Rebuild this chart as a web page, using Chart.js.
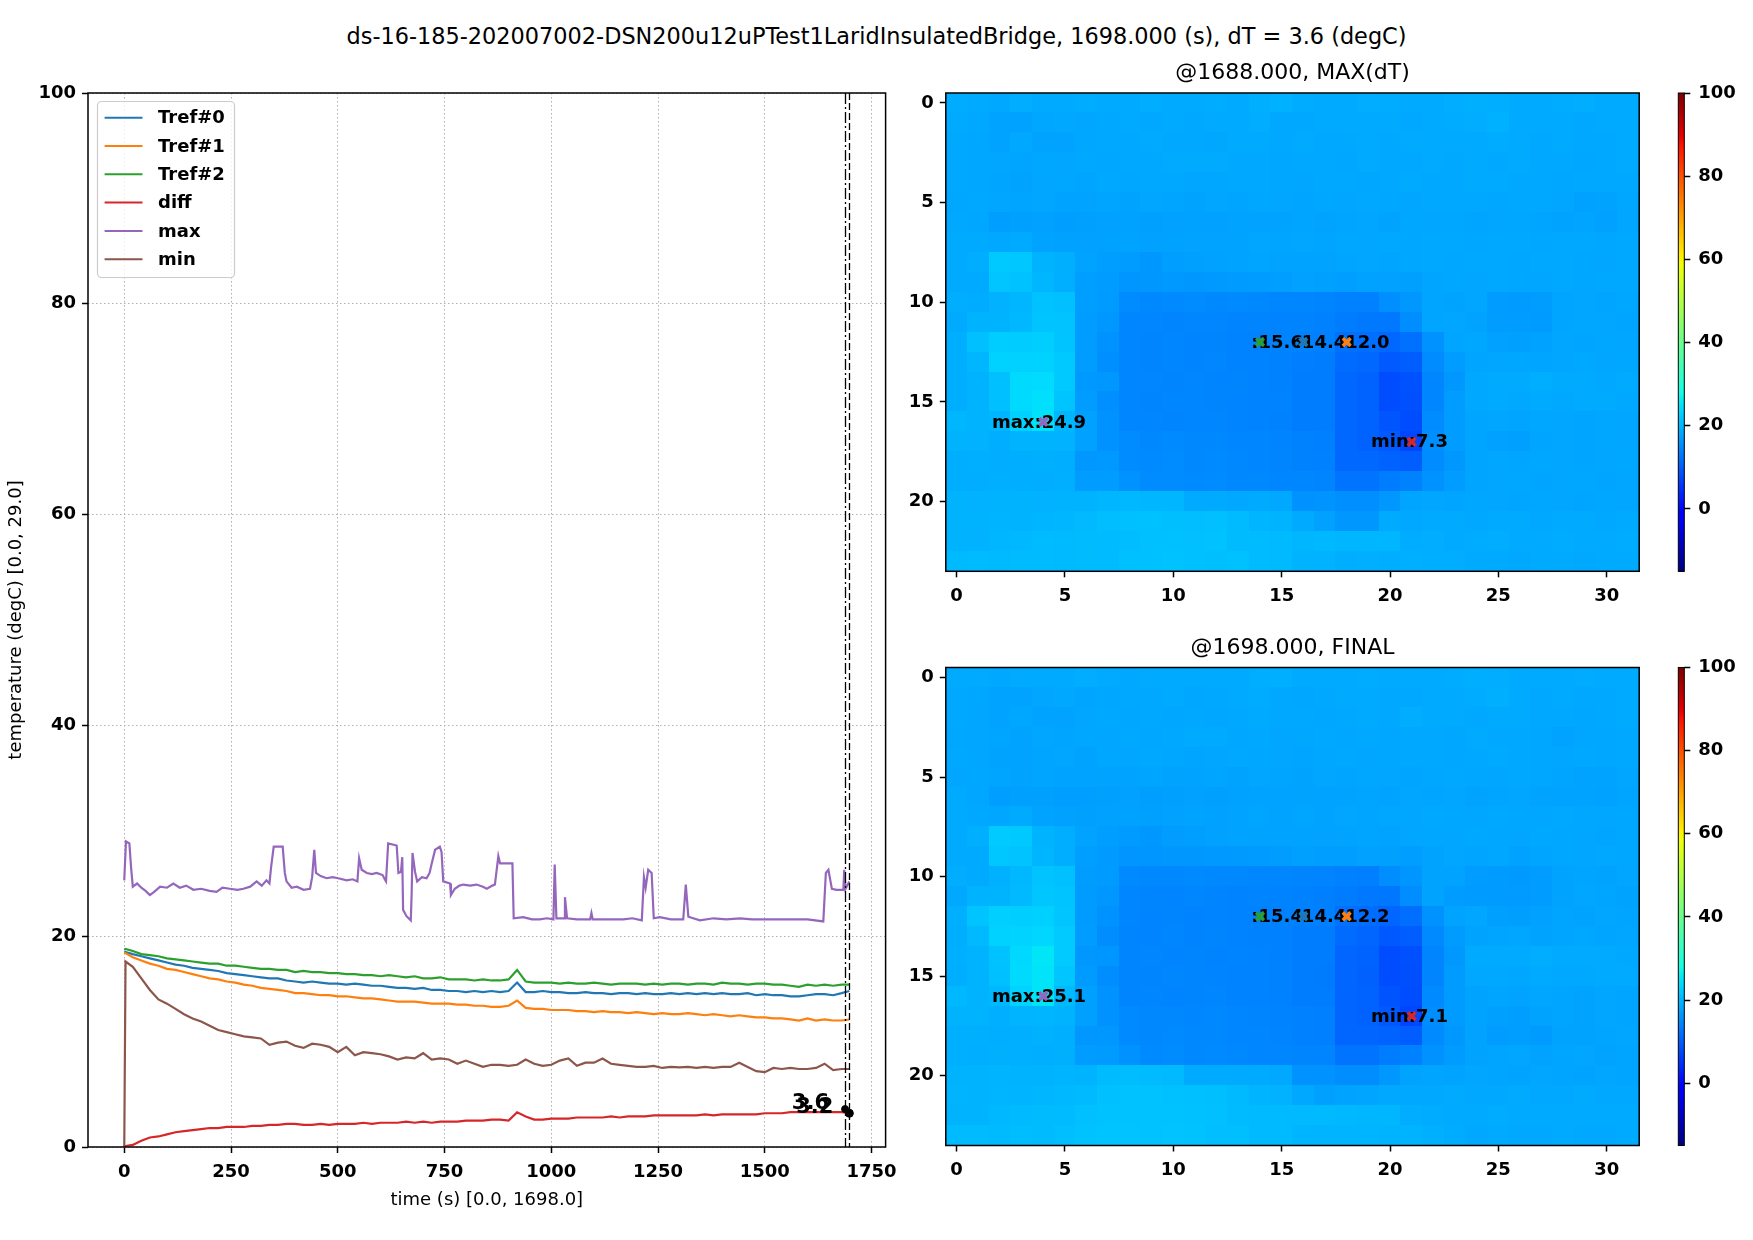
<!DOCTYPE html>
<html>
<head>
<meta charset="utf-8">
<script src="https://cdn.jsdelivr.net/npm/chart.js@4.4.0/dist/chart.umd.min.js"></script>
<style>
  html, body { margin: 0; padding: 0; background: #fff; }
  #page { position: relative; width: 1753px; height: 1240px; overflow: hidden; background: #fff; }
  #page canvas { position: absolute; left: 0; top: 0; width: 1753px; height: 1240px; }
  #suptitle { position: absolute; left: 0; top: 23px; width: 1753px; text-align: center;
              font: 22.4px 'DejaVu Sans', sans-serif; line-height: 26px; color: #000; }
</style>
</head>
<body>
<div id="page">
  <div id="suptitle">ds-16-185-202007002-DSN200u12uPTest1LaridInsulatedBridge, 1698.000 (s), dT = 3.6 (degC)</div>
  <canvas id="cLines" width="1753" height="1240"></canvas>
  <canvas id="cMapTop" width="1753" height="1240"></canvas>
  <canvas id="cBarTop" width="1753" height="1240"></canvas>
  <canvas id="cMapBot" width="1753" height="1240"></canvas>
  <canvas id="cBarBot" width="1753" height="1240"></canvas>
</div>
<script>
// ---- line chart data ----
const seriesNames = ['Tref#0', 'Tref#1', 'Tref#2', 'diff', 'max', 'min'];
const seriesColors = ['#1f77b4', '#ff7f0e', '#2ca02c', '#d62728', '#9467bd', '#8c564b'];

const times = [
  0, 3, 20, 40, 60, 80, 100, 120, 140, 160,
  180, 200, 220, 240, 260, 280, 300, 320, 340, 360,
  380, 400, 420, 440, 460, 480, 500, 520, 540, 560,
  580, 600, 620, 640, 660, 680, 700, 720, 740, 760,
  780, 800, 820, 840, 860, 880, 900, 920, 940, 960,
  980, 1000, 1020, 1040, 1060, 1080, 1100, 1120, 1140, 1160,
  1180, 1200, 1220, 1240, 1260, 1280, 1300, 1320, 1340, 1360,
  1380, 1400, 1420, 1440, 1460, 1480, 1500, 1520, 1540, 1560,
  1580, 1600, 1620, 1640, 1660, 1680, 1698
];
const tref0Vals = [
  18.5, 18.5, 18.3, 18.1, 17.9, 17.7, 17.5, 17.3, 17.2, 17.0,
  16.9, 16.8, 16.7, 16.5, 16.4, 16.3, 16.2, 16.1, 16.0, 16.0,
  15.8, 15.7, 15.6, 15.7, 15.6, 15.5, 15.5, 15.4, 15.5, 15.4,
  15.3, 15.3, 15.2, 15.1, 15.1, 15.0, 15.1, 14.9, 14.9, 14.8,
  14.8, 14.7, 14.8, 14.7, 14.8, 14.7, 14.8, 15.6, 14.7, 14.7,
  14.8, 14.7, 14.7, 14.6, 14.6, 14.7, 14.6, 14.6, 14.5, 14.6,
  14.6, 14.5, 14.6, 14.5, 14.5, 14.6, 14.5, 14.6, 14.5, 14.6,
  14.5, 14.6, 14.5, 14.5, 14.6, 14.4, 14.5, 14.4, 14.4, 14.3,
  14.3, 14.4, 14.5, 14.5, 14.4, 14.6, 14.8
];
const tref1Vals = [
  18.4, 18.4, 18.0, 17.7, 17.4, 17.2, 16.9, 16.8, 16.6, 16.4,
  16.2, 16.0, 15.9, 15.7, 15.6, 15.4, 15.3, 15.1, 15.0, 14.9,
  14.8, 14.6, 14.6, 14.5, 14.4, 14.4, 14.3, 14.3, 14.2, 14.1,
  14.1, 14.0, 13.9, 13.8, 13.8, 13.8, 13.7, 13.6, 13.6, 13.6,
  13.5, 13.5, 13.4, 13.4, 13.3, 13.3, 13.4, 13.9, 13.2, 13.1,
  13.1, 13.0, 13.0, 13.0, 12.9, 12.9, 12.8, 12.9, 12.8, 12.8,
  12.7, 12.8, 12.7, 12.6, 12.7, 12.6, 12.6, 12.7, 12.6, 12.5,
  12.6, 12.5, 12.4, 12.5, 12.4, 12.3, 12.3, 12.2, 12.2, 12.1,
  12.0, 12.2, 12.0, 12.1, 12.0, 12.0, 12.1
];
const tref2Vals = [
  18.7, 18.8, 18.6, 18.3, 18.2, 18.1, 17.9, 17.8, 17.7, 17.6,
  17.5, 17.4, 17.4, 17.2, 17.2, 17.1, 17.0, 16.9, 16.9, 16.8,
  16.8, 16.6, 16.7, 16.6, 16.6, 16.5, 16.5, 16.4, 16.4, 16.3,
  16.3, 16.2, 16.3, 16.2, 16.1, 16.2, 16.0, 16.0, 16.1, 15.9,
  15.9, 15.9, 15.8, 15.9, 15.8, 15.8, 15.9, 16.8, 15.7, 15.6,
  15.6, 15.6, 15.5, 15.6, 15.5, 15.5, 15.6, 15.5, 15.4, 15.5,
  15.5, 15.5, 15.4, 15.5, 15.4, 15.5, 15.5, 15.4, 15.5, 15.5,
  15.4, 15.6, 15.5, 15.5, 15.4, 15.5, 15.5, 15.4, 15.4, 15.3,
  15.2, 15.4, 15.3, 15.4, 15.3, 15.4, 15.4
];
const diffVals = [
  0.0, 0.1, 0.2, 0.6, 0.9, 1.0, 1.2, 1.4, 1.5, 1.6,
  1.7, 1.8, 1.8, 1.9, 1.9, 1.9, 2.0, 2.0, 2.1, 2.1,
  2.2, 2.2, 2.1, 2.1, 2.2, 2.1, 2.2, 2.2, 2.2, 2.3,
  2.2, 2.3, 2.3, 2.3, 2.4, 2.3, 2.4, 2.3, 2.4, 2.4,
  2.4, 2.5, 2.5, 2.5, 2.6, 2.6, 2.5, 3.3, 2.9, 2.6,
  2.6, 2.7, 2.7, 2.7, 2.8, 2.8, 2.8, 2.8, 2.9, 2.8,
  2.9, 2.9, 2.9, 3.0, 3.0, 3.0, 3.0, 3.0, 3.0, 3.1,
  3.0, 3.1, 3.1, 3.1, 3.1, 3.1, 3.2, 3.2, 3.2, 3.3,
  3.3, 3.3, 3.3, 3.3, 3.3, 3.3, 3.2
];
const minVals = [
  0.0, 17.6, 17.1, 16.0, 14.9, 14.0, 13.6, 13.1, 12.6, 12.2,
  11.9, 11.5, 11.1, 10.9, 10.7, 10.5, 10.4, 10.3, 9.7, 9.9,
  10.0, 9.6, 9.4, 9.8, 9.7, 9.5, 9.0, 9.5, 8.7, 9.0,
  8.9, 8.8, 8.6, 8.3, 8.5, 8.4, 8.9, 8.3, 8.4, 8.3,
  7.9, 8.2, 7.9, 7.6, 7.8, 7.8, 7.7, 7.8, 8.3, 7.9,
  7.7, 7.8, 8.2, 8.4, 7.7, 8.0, 8.0, 8.4, 7.9, 7.8,
  7.7, 7.6, 7.6, 7.7, 7.5, 7.6, 7.55, 7.6, 7.5, 7.6,
  7.5, 7.6, 7.6, 8.0, 7.6, 7.2, 7.1, 7.5, 7.4, 7.5,
  7.4, 7.4, 7.5, 7.9, 7.3, 7.4, 7.4
];
// the max trace has its own, denser sampling around the steps
const maxTimes = [
  0, 4, 12, 16, 20, 30, 40, 50, 60, 70,
  84, 100, 115, 130, 145, 162, 180, 200, 216, 230,
  247, 265, 279, 295, 310, 322, 333, 340, 344, 350,
  371, 376, 380, 392, 404, 420, 435, 440, 445, 449,
  460, 474, 488, 501, 521, 535, 546, 550, 556, 568,
  580, 591, 605, 610, 613, 618, 638, 642, 648, 651,
  653, 661, 671, 673, 675, 681, 686, 697, 708, 715,
  720, 728, 739, 743, 747, 763, 765, 774, 785, 794,
  810, 825, 840, 849, 862, 868, 876, 880, 909, 912,
  934, 955, 973, 990, 1005, 1008, 1012, 1030, 1032, 1037,
  1060, 1091, 1094, 1097, 1130, 1169, 1190, 1212, 1217, 1221,
  1227, 1235, 1240, 1254, 1280, 1309, 1315, 1321, 1348, 1380,
  1410, 1442, 1470, 1504, 1530, 1559, 1600, 1637, 1643, 1649,
  1657, 1668, 1684, 1686, 1689, 1698
];
const maxValues = [
  25.3, 29.0, 28.8, 26.5, 24.7, 25.0, 24.6, 24.3, 23.9, 24.2,
  24.7, 24.6, 25.0, 24.6, 24.8, 24.4, 24.5, 24.3, 24.2, 24.6,
  24.5, 24.4, 24.5, 24.7, 25.2, 24.8, 25.3, 25.0, 26.6, 28.5,
  28.5, 26.0, 25.2, 24.6, 24.7, 24.4, 24.5, 25.6, 28.2, 26.0,
  25.7, 25.5, 25.6, 25.5, 25.3, 25.4, 25.2, 27.4, 26.3, 26.0,
  25.9, 26.0, 25.8, 25.4, 25.2, 28.8, 28.6, 26.0, 26.1, 27.5,
  22.5, 21.9, 21.5, 24.0, 27.9, 26.1, 25.2, 25.6, 25.5, 26.0,
  26.9, 28.2, 28.5, 28.0, 25.2, 25.0, 23.9, 24.5, 24.8, 24.9,
  24.8, 24.9, 24.7, 24.5, 24.8, 24.9, 27.6, 26.9, 26.9, 21.7,
  21.8, 21.6, 21.6, 21.7, 21.6, 26.8, 21.7, 21.7, 23.7, 21.7,
  21.6, 21.6, 22.2, 21.6, 21.6, 21.6, 21.7, 21.5, 25.6, 24.6,
  26.3, 26.0, 21.7, 21.8, 21.6, 21.6, 24.9, 21.85, 21.5, 21.7,
  21.6, 21.7, 21.6, 21.6, 21.6, 21.6, 21.6, 21.4, 26.0, 26.3,
  24.5, 24.4, 24.4, 26.3, 24.5, 25.2
];
const eventTimes = [1688, 1698];
const eventDiff = [3.6, 3.2];
const eventLabels = ['3.6', '3.2'];

const lineXTicks = [0, 250, 500, 750, 1000, 1250, 1500, 1750];
const lineYTicks = [0, 20, 40, 60, 80, 100];

// ---- heat maps (24 rows x 32 columns, degC) ----
const mapXTicks = [0, 5, 10, 15, 20, 25, 30];
const mapYTicks = [0, 5, 10, 15, 20];
const barTicks = [0, 20, 40, 60, 80, 100];
const colorMin = -15;
const colorMax = 100;

const mapMaxDT = [
  [18.8,18.6,18.4,18.9,18.7,18.6,18.8,18.5, 18.6,18.9,18.7,18.6,18.8,18.5,19.2,19.3, 18.8,18.7,18.6,18.9,18.8,18.7,18.6,18.9, 19.2,19.0,18.7,18.6,18.8,18.9,18.7,18.6],
  [18.5,18.3,17.8,17.6,18.2,18.4,18.1,18.3, 18.5,18.4,18.6,18.3,18.5,18.7,18.9,18.4, 18.3,18.5,18.6,18.7,18.5,18.4,18.6,18.8, 18.9,19.3,18.7,18.5,18.6,18.4,18.5,18.7],
  [18.4,18.2,17.7,18.3,17.9,17.8,18.2,18.4, 18.3,18.5,18.3,18.4,18.2,18.5,18.6,18.4, 18.5,18.3,18.4,18.6,18.4,18.5,18.7,18.6, 18.5,18.8,18.6,18.4,18.5,18.3,18.4,18.6],
  [18.3,18.2,18.1,18.0,18.2,18.1,18.3,18.2, 18.4,18.3,18.5,18.6,18.7,18.3,18.4,18.2, 18.3,18.4,18.2,18.5,18.3,18.4,18.5,18.3, 18.6,18.4,18.5,18.3,18.4,18.2,18.3,18.5],
  [18.4,18.2,18.0,17.9,18.1,18.2,18.0,18.3, 18.2,18.4,18.3,18.1,18.2,18.4,18.3,18.2, 18.1,18.3,18.4,18.2,18.3,18.5,18.4,18.3, 18.5,18.6,18.4,18.3,18.2,18.4,18.3,18.4],
  [18.2,18.3,18.1,18.0,18.1,17.8,17.9,18.0, 17.9,18.1,18.0,17.9,18.1,18.0,18.2,18.1, 18.0,18.2,18.1,18.3,18.2,18.1,18.3,18.4, 18.3,18.2,18.4,18.3,18.1,17.6,17.9,18.2],
  [18.4,18.2,17.3,17.4,17.5,17.3,17.4,17.5, 17.6,17.4,17.5,17.6,17.5,17.7,17.8,17.9, 18.0,17.9,18.0,18.1,17.9,18.2,18.1,18.2, 18.0,18.1,18.2,18.0,17.9,18.0,17.5,18.1],
  [18.6,18.5,18.3,18.7,17.8,17.6,17.5,17.6, 17.7,17.5,17.6,17.8,17.7,17.9,18.1,18.0, 18.1,18.0,18.2,18.1,18.3,18.2,18.4,18.3, 18.2,18.4,18.3,18.2,18.4,18.3,18.2,18.3],
  [18.5,19.0,22.0,21.8,19.6,19.2,17.8,17.3, 17.0,16.5,17.2,17.4,17.6,17.8,18.0,17.9, 17.8,17.9,18.0,18.1,18.0,18.2,18.3,18.2, 18.4,18.3,18.2,18.4,18.3,18.2,18.1,18.3],
  [18.6,18.7,21.6,21.2,20.0,19.1,17.3,17.0, 16.3,16.4,16.6,16.5,16.7,16.8,17.0,17.2, 17.5,17.4,17.3,17.6,17.5,17.4,18.0,18.2, 18.1,18.3,18.2,18.1,18.3,18.2,18.4,18.3],
  [19.0,18.8,19.4,20.0,21.2,21.0,17.2,16.9, 15.0,14.8,14.9,15.0,14.8,14.9,14.7,14.6, 14.5,14.4,14.0,13.9,15.5,16.4,18.0,17.9, 18.1,17.0,16.9,17.1,18.0,18.1,18.0,18.2],
  [18.5,19.6,19.5,20.1,21.5,21.4,17.0,16.5, 14.6,14.5,14.4,14.6,14.5,14.3,14.4,14.2, 14.1,13.9,13.5,13.0,12.9,15.4,18.0,18.1, 17.9,17.1,17.0,16.9,18.0,18.2,18.1,18.0],
  [19.0,21.0,22.5,22.4,22.6,21.5,17.0,16.0, 14.6,14.4,14.5,14.3,14.4,14.2,14.0,14.1, 14.0,13.8,12.0,11.8,11.0,12.0,16.0,18.0, 18.2,17.5,17.4,17.6,18.1,18.0,18.2,18.1],
  [19.0,20.0,23.0,22.9,23.1,22.0,17.1,15.5, 14.5,14.4,14.6,14.3,14.5,14.2,14.1,14.0, 13.6,13.4,11.5,11.0,9.5,10.0,15.0,17.0, 18.0,18.1,18.2,18.0,18.1,18.3,18.1,18.2],
  [19.0,19.5,21.0,24.0,24.1,22.0,16.6,16.4, 14.5,14.6,14.4,14.5,14.3,14.4,14.2,14.0, 13.5,13.4,11.0,10.5,8.0,8.5,14.5,16.5, 18.4,18.5,18.6,19.0,18.5,18.6,18.4,18.5],
  [19.0,19.5,21.0,24.0,24.5,21.5,17.0,15.5, 14.5,14.4,14.6,14.5,14.4,14.3,14.2,14.1, 13.5,13.3,11.0,10.4,8.0,8.4,14.5,17.0, 18.4,18.5,18.3,18.6,18.4,18.5,18.6,18.4],
  [20.0,19.5,20.0,23.0,24.9,20.0,17.5,16.0, 14.5,14.6,14.4,14.5,14.6,14.3,14.2,14.0, 13.5,13.4,11.0,10.5,9.0,8.0,15.0,17.0, 18.0,18.1,18.0,18.2,18.1,18.0,18.2,18.1],
  [19.5,19.4,19.0,19.5,19.6,19.4,17.5,16.0, 15.0,14.8,14.9,14.7,14.8,14.6,14.5,14.3, 14.0,13.8,11.0,10.5,9.5,7.3,15.5,17.0, 18.0,17.5,17.4,18.0,18.1,18.0,18.2,18.1],
  [19.0,19.1,18.9,19.0,19.2,19.0,16.5,16.6, 15.0,14.9,15.0,14.8,14.9,14.7,14.6,14.4, 14.0,13.9,11.0,11.0,10.5,10.0,15.0,16.5, 18.0,18.1,18.0,18.2,18.1,18.0,18.1,18.2],
  [19.0,18.9,19.1,19.0,18.9,19.1,17.0,17.0, 16.0,15.0,15.1,14.9,15.0,14.8,14.7,14.6, 14.5,14.4,12.5,12.5,13.5,14.0,16.0,17.0, 18.0,18.1,18.2,18.0,18.1,18.2,18.0,18.1],
  [19.5,19.4,19.6,19.5,19.4,19.6,19.5,20.0, 20.1,20.0,19.9,18.5,18.6,18.4,18.5,18.3, 16.0,16.1,15.5,15.5,16.5,18.0,18.1,18.0, 18.2,18.1,18.0,18.2,18.1,18.0,18.2,18.1],
  [19.6,19.5,19.7,19.6,19.8,20.0,20.2,20.8, 21.0,21.1,20.9,20.8,21.0,20.5,19.8,19.5, 18.5,17.5,16.5,16.5,18.5,18.4,18.5,18.6, 18.4,18.5,18.6,18.4,18.5,18.6,18.4,18.5],
  [19.5,19.4,20.0,20.1,20.5,20.4,20.6,20.5, 20.7,21.0,21.1,21.0,21.2,20.6,20.5,20.4, 20.0,20.1,20.0,19.9,20.0,18.8,18.9,18.7, 18.8,18.9,18.7,18.6,18.8,18.7,18.6,18.8],
  [20.4,20.5,20.3,20.6,20.5,20.4,20.6,20.5, 21.0,21.1,21.2,21.0,20.9,21.1,20.5,20.4, 19.5,19.4,19.0,19.1,19.0,19.1,19.0,18.9, 18.5,18.6,18.4,18.5,18.6,18.4,18.5,18.6]
];
const mapFinal = [
  [18.6,18.5,18.4,18.7,18.6,18.5,18.9,18.5, 18.4,18.7,18.6,18.5,18.7,18.5,19.0,19.1, 18.7,18.6,18.5,18.8,18.7,18.6,18.5,18.8, 19.0,18.9,18.6,18.5,18.7,18.8,18.6,18.5],
  [18.4,18.2,17.8,17.7,18.1,18.3,18.0,18.2, 18.4,18.3,18.5,18.2,18.4,18.6,18.8,18.3, 18.2,18.4,18.5,18.6,18.4,18.3,18.5,18.7, 18.8,19.2,18.6,18.4,18.5,18.3,18.4,18.6],
  [18.3,18.1,17.7,18.2,17.8,17.7,18.1,18.3, 18.2,18.4,18.2,18.3,18.1,18.4,18.5,18.3, 18.4,18.2,18.3,18.5,18.3,18.9,18.6,18.5, 18.4,18.7,18.5,18.3,18.4,18.2,18.3,18.5],
  [18.2,18.1,18.0,17.9,18.1,18.0,18.2,18.1, 18.3,18.2,18.4,18.5,18.6,18.2,18.3,18.1, 18.2,18.3,18.1,18.4,18.2,18.3,18.4,18.2, 18.5,18.3,18.4,18.2,17.7,18.1,18.2,18.4],
  [18.3,18.1,17.9,17.8,18.0,18.1,17.9,18.2, 18.1,18.3,18.2,18.0,18.1,18.3,18.2,18.1, 18.0,18.2,18.3,18.1,18.2,18.4,18.3,18.2, 18.4,18.5,18.3,18.2,18.1,18.3,18.2,18.3],
  [18.1,18.2,18.0,17.9,18.0,17.7,17.8,17.9, 17.8,18.0,17.9,17.8,18.0,17.9,18.1,18.0, 17.9,18.1,18.0,18.2,18.1,18.0,18.2,18.3, 18.2,18.1,18.3,18.2,18.0,17.7,17.8,18.1],
  [18.5,18.1,17.3,17.4,17.4,17.2,17.3,17.4, 17.5,17.3,17.4,17.5,17.4,17.6,17.7,17.8, 17.9,17.8,17.9,18.0,17.8,18.1,18.0,18.1, 17.9,18.0,18.1,17.9,17.8,17.9,17.6,18.0],
  [18.6,18.4,18.2,18.5,17.7,17.5,17.4,17.5, 17.6,17.4,17.5,17.7,17.6,17.8,18.0,17.9, 18.0,17.9,18.1,18.0,18.2,18.1,18.3,18.2, 18.1,18.3,18.2,18.1,18.3,18.2,18.1,18.2],
  [18.6,19.2,22.2,22.0,19.5,19.0,17.7,17.2, 16.9,16.4,17.1,17.3,17.5,17.7,17.9,17.8, 17.7,17.8,17.9,18.0,17.9,18.1,18.2,18.1, 18.3,18.2,18.1,18.3,18.2,18.1,18.0,18.2],
  [18.5,18.6,21.8,21.4,19.8,19.0,17.2,16.9, 16.2,16.3,16.5,16.4,16.6,16.7,16.9,17.1, 17.4,17.3,17.2,17.5,17.4,17.3,17.9,18.1, 18.0,18.2,17.6,18.0,18.2,18.1,18.3,18.2],
  [18.9,18.6,19.3,20.1,21.4,21.0,17.1,16.8, 14.9,14.7,14.8,14.9,14.7,14.8,14.6,14.5, 14.4,14.3,13.9,13.8,15.4,16.3,17.9,17.8, 17.0,16.8,16.7,17.0,17.9,18.0,17.9,18.1],
  [18.4,19.5,19.6,20.2,21.7,21.5,16.9,16.4, 14.5,14.4,14.3,14.5,14.4,14.2,14.3,14.1, 14.0,13.8,13.4,12.9,12.8,15.3,17.9,17.0, 16.8,16.9,16.8,17.0,17.9,18.1,18.0,17.9],
  [19.1,21.5,22.7,22.6,22.8,21.6,16.9,15.9, 14.5,14.3,14.4,14.2,14.3,14.1,13.9,14.0, 13.9,13.7,12.2,11.7,10.9,11.9,15.9,17.9, 18.1,17.4,17.3,17.5,18.0,17.9,18.1,18.0],
  [19.0,20.2,23.1,23.2,23.5,22.1,17.0,15.4, 14.4,14.3,14.5,14.2,14.4,14.1,14.0,13.9, 13.5,13.3,11.4,10.9,9.4,9.9,14.9,16.9, 17.9,18.0,18.1,17.9,18.0,18.2,18.0,18.1],
  [19.1,19.6,21.2,23.8,25.3,22.2,16.5,16.3, 14.4,14.5,14.3,14.4,14.2,14.3,14.1,13.9, 13.4,13.3,10.9,10.4,7.9,8.4,14.4,16.4, 18.6,18.7,18.6,18.9,18.6,18.7,18.6,18.4],
  [19.0,19.6,21.1,23.9,25.0,21.6,16.9,15.4, 14.4,14.3,14.5,14.4,14.3,14.2,14.1,14.0, 13.4,13.2,10.9,10.3,7.9,8.3,14.4,16.9, 18.3,18.4,18.2,18.5,18.3,18.4,18.5,18.7],
  [20.1,19.6,20.1,23.2,25.1,20.2,17.4,15.9, 14.4,14.5,14.3,14.4,14.5,14.2,14.1,13.9, 13.4,13.3,10.9,10.4,8.9,7.9,14.9,16.9, 17.9,18.0,17.9,18.1,18.0,17.9,18.1,18.0],
  [19.6,19.5,19.1,19.7,19.8,19.5,17.4,15.9, 14.9,14.7,14.8,14.6,14.7,14.5,14.4,14.2, 13.9,13.7,10.9,10.4,9.4,7.1,15.4,16.9, 17.9,17.4,17.3,17.9,18.0,17.9,18.1,18.0],
  [19.1,19.2,19.0,19.1,19.3,19.1,16.5,16.5, 14.9,14.8,14.9,14.7,14.8,14.6,14.5,14.3, 13.9,13.8,10.9,10.9,10.4,9.9,14.9,16.4, 17.9,17.0,17.2,16.9,17.9,17.9,18.0,18.1],
  [19.1,19.0,19.2,19.1,19.0,19.2,17.0,16.9, 15.9,14.9,15.0,14.8,14.9,14.7,14.6,14.5, 14.4,14.3,12.4,12.4,13.4,13.9,15.9,16.9, 17.9,18.0,18.1,17.9,18.0,18.1,17.9,18.0],
  [19.6,19.5,19.7,19.6,19.5,19.7,19.6,20.6, 20.7,20.5,20.2,18.6,18.7,18.5,18.6,18.4, 16.0,16.0,15.4,15.4,16.4,17.9,18.0,17.9, 18.1,18.0,17.9,18.1,18.0,17.9,18.1,18.0],
  [19.7,19.6,19.8,19.7,19.9,20.1,20.4,21.0, 21.2,21.3,21.1,21.0,20.9,20.4,19.7,19.4, 18.4,17.4,17.8,18.0,18.4,18.3,18.4,18.5, 18.3,18.4,18.5,18.3,18.4,18.5,18.3,18.4],
  [19.6,19.5,20.1,20.3,20.6,20.5,21.0,21.2, 21.3,21.3,21.2,21.1,21.0,20.5,20.4,20.3, 20.2,20.3,20.1,20.0,19.9,18.9,18.8,18.6, 18.7,18.8,18.6,18.5,18.7,18.6,18.5,18.7],
  [20.5,20.6,20.4,20.7,20.6,20.8,21.3,21.5, 21.4,21.3,21.4,21.2,20.8,20.9,20.4,20.3, 19.8,19.7,19.7,19.8,19.6,19.5,19.2,18.8, 18.4,18.5,18.3,18.4,18.5,18.3,18.4,18.5]
];

// markers on the maps: Tref#2, Tref#0, Tref#1, max, min
const markCols = [14, 16, 18, 4, 21];
const markRows = [12, 12, 12, 16, 17];
const markColors = ['#2ca02c', '#1f77b4', '#ff7f0e', '#9467bd', '#d62728'];
const noteCols = [13.6, 15.6, 17.6, 3.8, 20.9];
const noteRows = [12, 12, 12, 16, 17];
const noteAlign = ['left', 'left', 'left', 'center', 'center'];
const notesMaxDT = [':15.6', ':14.4', ':12.0', 'max:24.9', 'min:7.3'];
const notesFinal = [':15.4', ':14.4', ':12.2', 'max:25.1', 'min:7.1'];

// ---- defaults ----
Chart.defaults.font.family = "'DejaVu Sans', sans-serif";
Chart.defaults.font.size = 18;
Chart.defaults.color = '#000';
Chart.defaults.animation = false;
Chart.defaults.responsive = false;
Chart.defaults.devicePixelRatio = 1;
Chart.defaults.events = [];
Chart.defaults.plugins.legend.display = false;
Chart.defaults.plugins.tooltip.enabled = false;

const W = 1753, H = 1240;
const FONT = "'DejaVu Sans', sans-serif";

// matplotlib "jet"
function jet(t) {
  t = Math.min(1, Math.max(0, t));
  const seg = pts => {
    for (let i = 1; i < pts.length; i++) {
      if (t <= pts[i][0]) {
        const [x0, y0] = pts[i - 1], [x1, y1] = pts[i];
        return y0 + (y1 - y0) * (t - x0) / (x1 - x0);
      }
    }
    return pts[pts.length - 1][1];
  };
  const r = seg([[0, 0], [0.35, 0], [0.66, 1], [0.89, 1], [1, 0.5]]);
  const g = seg([[0, 0], [0.125, 0], [0.375, 1], [0.64, 1], [0.91, 0], [1, 0]]);
  const b = seg([[0, 0.5], [0.11, 1], [0.34, 1], [0.65, 0], [1, 0]]);
  return 'rgb(' + Math.round(r * 255) + ',' + Math.round(g * 255) + ',' + Math.round(b * 255) + ')';
}

function fixedTicks(list) {
  return scale => { scale.ticks = list.map(v => ({ value: v })); };
}

function drawFrame(ctx, a) {
  ctx.save();
  ctx.strokeStyle = '#000';
  ctx.lineWidth = 1.5;
  ctx.setLineDash([]);
  ctx.strokeRect(a.left, a.top, a.right - a.left, a.bottom - a.top);
  ctx.restore();
}

const toXY = (xs, ys) => xs.map((x, i) => ({ x: x, y: ys[i] }));

// ---- left: time series ----
const lineBox = { l: 88, r: 885.6, t: 93, b: 1147 };
const seriesValues = [tref0Vals, tref1Vals, tref2Vals, diffVals, maxValues, minVals];

const lineDatasets = seriesNames.map((name, i) => ({
  label: name,
  data: i === 4 ? toXY(maxTimes, maxValues) : toXY(times, seriesValues[i]),
  borderColor: seriesColors[i],
  backgroundColor: seriesColors[i],
  borderWidth: 2.2,
  pointRadius: 0,
  fill: false,
  tension: 0,
  order: 10 - i
}));
lineDatasets.push({
  type: 'scatter',
  label: 'events',
  data: toXY(eventTimes, eventDiff),
  pointRadius: [3.5, 4],
  pointBackgroundColor: '#000',
  pointBorderColor: '#000',
  showLine: false,
  order: 0
});

const lineExtras = {
  id: 'lineExtras',
  afterDatasetsDraw(chart) {
    const { ctx, chartArea: a, scales: { x, y } } = chart;
    ctx.save();
    // cursor lines
    ctx.strokeStyle = '#000';
    ctx.lineWidth = 1.3;
    const styles = [[11, 3, 2, 3], [7, 3]];
    eventTimes.forEach((t, i) => {
      const px = Math.round(x.getPixelForValue(t)) + 0.5;
      ctx.setLineDash(styles[i]);
      ctx.beginPath();
      ctx.moveTo(px, a.top);
      ctx.lineTo(px, a.bottom);
      ctx.stroke();
    });
    ctx.setLineDash([]);
    // value labels
    ctx.fillStyle = '#000';
    ctx.font = 'bold 21px ' + FONT;
    ctx.textAlign = 'right';
    ctx.textBaseline = 'alphabetic';
    eventTimes.forEach((t, i) => {
      ctx.fillText(eventLabels[i], x.getPixelForValue(t) - 16, y.getPixelForValue(eventDiff[i]));
    });
    ctx.restore();
    drawFrame(ctx, a);

    // legend, upper left
    ctx.save();
    const bx = 97.5, by = 101.5, bw = 137, bh = 176, rad = 4;
    ctx.beginPath();
    ctx.moveTo(bx + rad, by);
    ctx.arcTo(bx + bw, by, bx + bw, by + bh, rad);
    ctx.arcTo(bx + bw, by + bh, bx, by + bh, rad);
    ctx.arcTo(bx, by + bh, bx, by, rad);
    ctx.arcTo(bx, by, bx + bw, by, rad);
    ctx.closePath();
    ctx.fillStyle = 'rgba(255,255,255,0.8)';
    ctx.fill();
    ctx.strokeStyle = '#cccccc';
    ctx.lineWidth = 1.2;
    ctx.stroke();
    ctx.font = 'bold 18px ' + FONT;
    ctx.textAlign = 'left';
    ctx.textBaseline = 'middle';
    seriesNames.forEach((name, i) => {
      const ly = 117.7 + i * 28.3;
      ctx.strokeStyle = seriesColors[i];
      ctx.lineWidth = 2;
      ctx.beginPath();
      ctx.moveTo(104.6, ly);
      ctx.lineTo(142.5, ly);
      ctx.stroke();
      ctx.fillStyle = '#000';
      ctx.fillText(name, 158, ly + 1);
    });
    ctx.restore();
  }
};

new Chart(document.getElementById('cLines'), {
  type: 'line',
  data: { datasets: lineDatasets },
  options: {
    layout: { padding: { left: 0, top: lineBox.t, right: W - lineBox.r, bottom: 0 } },
    scales: {
      x: {
        type: 'linear', min: -84.9, max: 1782.9,
        afterBuildTicks: fixedTicks(lineXTicks),
        afterFit: s => { s.height = H - lineBox.b; },
        grid: { color: '#b0b0b0', lineWidth: 1, tickLength: 6, tickColor: '#000', tickWidth: 1.5 },
        border: { display: false, dash: [1.5, 2.5] },
        ticks: { font: { weight: 'bold' }, padding: 9, maxRotation: 0, autoSkip: false, callback: v => String(v) },
        title: { display: true, text: 'time (s) [0.0, 1698.0]', padding: { top: 0, bottom: 29 } }
      },
      y: {
        type: 'linear', min: 0, max: 100,
        afterBuildTicks: fixedTicks(lineYTicks),
        afterFit: s => { s.width = lineBox.l; },
        grid: { color: '#b0b0b0', lineWidth: 1, tickLength: 6, tickColor: '#000', tickWidth: 1.5 },
        border: { display: false, dash: [1.5, 2.5] },
        ticks: { font: { weight: 'bold' }, padding: 6, autoSkip: false, callback: v => String(v) },
        title: { display: true, text: 'temperature (degC) [0.0, 29.0]', padding: { top: 6, bottom: 0 } }
      }
    }
  },
  plugins: [lineExtras]
});

// ---- right: heat maps and colour bars ----
function makeMap(canvasId, grid, box, title, notes) {
  const heatPlugin = {
    id: 'heat',
    beforeDatasetsDraw(chart) {
      const { ctx, chartArea: a, scales: { x, y } } = chart;
      ctx.save();
      ctx.beginPath();
      ctx.rect(a.left, a.top, a.right - a.left, a.bottom - a.top);
      ctx.clip();
      grid.forEach((row, r) => row.forEach((v, c) => {
        const x0 = Math.floor(x.getPixelForValue(c - 0.5));
        const x1 = Math.ceil(x.getPixelForValue(c + 0.5));
        const ya = y.getPixelForValue(r - 0.5), yb = y.getPixelForValue(r + 0.5);
        const y0 = Math.floor(Math.min(ya, yb)), y1 = Math.ceil(Math.max(ya, yb));
        ctx.fillStyle = jet((v - colorMin) / (colorMax - colorMin));
        ctx.fillRect(x0, y0, x1 - x0, y1 - y0);
      }));
      ctx.fillStyle = '#000';
      ctx.font = 'bold 18px ' + FONT;
      ctx.textBaseline = 'middle';
      notes.forEach((txt, i) => {
        ctx.textAlign = noteAlign[i];
        ctx.fillText(txt, x.getPixelForValue(noteCols[i]), y.getPixelForValue(noteRows[i]) + 1);
      });
      ctx.restore();
    },
    afterDraw(chart) {
      const { ctx, chartArea: a } = chart;
      drawFrame(ctx, a);
      ctx.save();
      ctx.fillStyle = '#000';
      ctx.font = '22px ' + FONT;
      ctx.textAlign = 'center';
      ctx.textBaseline = 'middle';
      ctx.fillText(title, (a.left + a.right) / 2, a.top - 19.5);
      ctx.restore();
    }
  };
  const tickGrid = { drawOnChartArea: false, drawTicks: true, tickLength: 6, tickColor: '#000', tickWidth: 1.5 };
  new Chart(document.getElementById(canvasId), {
    type: 'scatter',
    data: {
      datasets: markCols.map((c, i) => ({
        data: [{ x: c, y: markRows[i] }],
        pointStyle: 'crossRot',
        pointRadius: 5.5,
        borderWidth: 3.5,
        borderColor: markColors[i],
        backgroundColor: markColors[i]
      }))
    },
    options: {
      layout: { padding: { left: box.l - 60, top: box.t, right: W - box.r, bottom: H - box.b - 50 } },
      scales: {
        x: {
          type: 'linear', min: -0.5, max: 31.5,
          afterBuildTicks: fixedTicks(mapXTicks),
          afterFit: s => { s.height = 50; },
          grid: tickGrid,
          border: { display: false },
          ticks: { font: { weight: 'bold' }, padding: 8, maxRotation: 0, autoSkip: false, callback: v => String(v) }
        },
        y: {
          type: 'linear', min: -0.5, max: 23.5, reverse: true,
          afterBuildTicks: fixedTicks(mapYTicks),
          afterFit: s => { s.width = 60; },
          grid: tickGrid,
          border: { display: false },
          ticks: { font: { weight: 'bold' }, padding: 6, autoSkip: false, callback: v => String(v) }
        }
      }
    },
    plugins: [heatPlugin]
  });
}

function makeColorBar(canvasId, box) {
  const barPlugin = {
    id: 'bar',
    beforeDatasetsDraw(chart) {
      const { ctx, chartArea: a, scales: { y } } = chart;
      ctx.save();
      for (let py = Math.floor(a.top); py < Math.ceil(a.bottom); py++) {
        const v = y.getValueForPixel(py + 0.5);
        ctx.fillStyle = jet((v - colorMin) / (colorMax - colorMin));
        ctx.fillRect(a.left, py, a.right - a.left, 1);
      }
      ctx.restore();
      ctx.save();
      ctx.strokeStyle = '#000';
      ctx.lineWidth = 1;
      ctx.strokeRect(a.left, a.top, a.right - a.left, a.bottom - a.top);
      ctx.restore();
    }
  };
  new Chart(document.getElementById(canvasId), {
    type: 'scatter',
    data: { datasets: [] },
    options: {
      layout: { padding: { left: box.l, top: box.t, right: W - box.r - 60, bottom: H - box.b } },
      scales: {
        x: { display: false, min: 0, max: 1 },
        y: {
          type: 'linear', position: 'right', min: colorMin, max: colorMax,
          afterBuildTicks: fixedTicks(barTicks),
          afterFit: s => { s.width = 60; },
          grid: { drawOnChartArea: false, drawTicks: true, tickLength: 6, tickColor: '#000', tickWidth: 1.5 },
          border: { display: false },
          ticks: { font: { weight: 'bold' }, padding: 8, autoSkip: false, callback: v => String(v) }
        }
      }
    },
    plugins: [barPlugin]
  });
}

const mapTopBox = { l: 945.8, r: 1639.2, t: 93, b: 571.3 };
const mapBotBox = { l: 945.8, r: 1639.2, t: 667.5, b: 1145.5 };
makeMap('cMapTop', mapMaxDT, mapTopBox, '@1688.000, MAX(dT)', notesMaxDT);
makeMap('cMapBot', mapFinal, mapBotBox, '@1698.000, FINAL', notesFinal);
makeColorBar('cBarTop', { l: 1678.3, r: 1684.3, t: 93, b: 571.3 });
makeColorBar('cBarBot', { l: 1678.3, r: 1684.3, t: 667.5, b: 1145.5 });
</script>
</body>
</html>
